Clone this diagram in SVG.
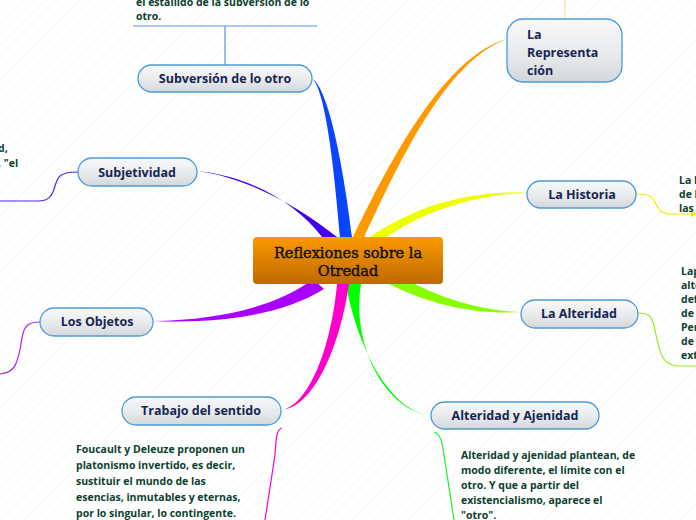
<svg xmlns="http://www.w3.org/2000/svg" width="696" height="520" viewBox="0 0 696 520">
<defs>
<pattern id="bg" width="8" height="8" patternUnits="userSpaceOnUse" patternTransform="rotate(45)">
<rect width="8" height="8" fill="#ffffff"/>
<line x1="0" y1="0" x2="0" y2="8" stroke="#f1f2f3" stroke-width="1.2"/>
</pattern>
<linearGradient id="nodeGrad" x1="0" y1="0" x2="0" y2="1">
<stop offset="0" stop-color="#f8f9fa"/>
<stop offset="0.6" stop-color="#e6e9eb"/>
<stop offset="1" stop-color="#d3d7da"/>
</linearGradient>
<linearGradient id="centerGrad" x1="0" y1="0" x2="0" y2="1">
<stop offset="0" stop-color="#fa9a00"/>
<stop offset="1" stop-color="#c06800"/>
</linearGradient>
<marker id="arrY" markerWidth="6" markerHeight="6" refX="5" refY="3" orient="auto" markerUnits="userSpaceOnUse">
<path d="M0,0 L6,3 L0,6 Z" fill="#eeee00"/>
</marker>
</defs>
<style>
.node rect{fill:url(#nodeGrad);stroke:#4d9bd6;stroke-width:1.3}
.node text{font-family:"Open Sans","Noto Sans",sans-serif;font-weight:bold;font-size:12.5px;fill:#172552;text-anchor:middle}
.desc{font-family:"Open Sans","Noto Sans",sans-serif;font-weight:bold;font-size:10.5px;fill:#0c3f2f}
.thin{fill:none;stroke-width:1.2}
.ctext{font-family:"DejaVu Serif","Liberation Serif",serif;font-size:14.5px;fill:#111;stroke:#111;stroke-width:0.45;text-anchor:middle}
</style>
<rect width="696" height="520" fill="url(#bg)"/>

<g id="connectors">
<path d="M340,237 C335,180 327,96 313,79 C331,94 345,180 352,237 Z" fill="#0a44ff"/>
<path d="M353,237 C382,178 440,57 507,39 C441,62 391,182 364,237 Z" fill="#ff9900"/>
<path d="M322,237 C296,203 250,176 197,171 C250,178 300,208 337,237 Z" fill="#4400ee"/>
<path d="M366,240 C418,202 480,190 527,193 C480,194 422,209 374,246 Z" fill="#eeff00"/>
<path d="M386,268 C432,297 480,311 521,312 C480,315 428,306 382,280 Z" fill="#88ff00"/>
<path d="M346,284 C356,342 388,412 431,415 C386,412 351,345 361,284 Z" fill="#00ff00"/>
<path d="M337,284 C331,350 308,405 282,410 C312,407 339,352 349,284 Z" fill="#ff00cc"/>
<path d="M313,279 C278,306 220,320 153,321 C220,324 282,315 324,289 Z" fill="#aa00ff"/>
<path class="thin" d="M133,26 L317,26 M225,26 L225,65" stroke="#5c8fee"/>
<path class="thin" d="M565,0 L565,19" stroke="#ffd9ab" stroke-width="2"/>
<path class="thin" d="M78,172 C60,172 58,176 55,186 C52,197 48,201 38,201 L0,201" stroke="#5522ee"/>
<path class="thin" d="M636,194 C652,194 652,197 656,204 C660,212 663,214 672,214 L696,214" stroke="#eeee00" marker-end="url(#arrY)"/>
<path class="thin" d="M638,313 C650,313 652,316 655,330 C660,355 662,366 680,366 L696,366" stroke="#99ee22"/>
<path class="thin" d="M40,322 C28,322 24,326 22,338 C18,364 15,373 0,374" stroke="#aa22ee"/>
<path class="thin" d="M282,428 C276,430 276,440 275,455 L265,520" stroke="#ff00cc"/>
<path class="thin" d="M434,432 C440,434 442,440 444,455 L454,520" stroke="#22ee22"/>
</g>

<g id="center">
<rect x="253" y="237" width="190" height="47" rx="4" fill="url(#centerGrad)"/>
<text class="ctext" x="348" y="258">Reflexiones sobre la</text>
<text class="ctext" x="348" y="276">Otredad</text>
</g>

<g id="subversion" class="node">
<rect x="138" y="65" width="174" height="27" rx="13.5"/>
<text x="225" y="83">Subversión de lo otro</text>
</g>
<g id="subversion-text">
<text class="desc" x="136" y="6">el estallido de la subversión de lo</text>
<text class="desc" x="136" y="20">otro.</text>
</g>

<g id="subjetividad" class="node">
<rect x="78" y="158" width="119" height="28" rx="14"/>
<text x="137" y="177">Subjetividad</text>
</g>
<g id="subjetividad-text">
<text class="desc" x="-2" y="152">d,</text>
<text class="desc" x="-2" y="167">, "el</text>
</g>

<g id="representacion" class="node">
<rect x="507" y="19" width="115" height="63" rx="16"/>
<text x="527" y="39" style="text-anchor:start">La</text>
<text x="527" y="57" style="text-anchor:start">Representa</text>
<text x="527" y="75" style="text-anchor:start">ción</text>
</g>

<g id="historia" class="node">
<rect x="527" y="181" width="109" height="27" rx="13.5"/>
<text x="582" y="199">La Historia</text>
</g>
<g id="historia-text">
<text class="desc" x="679" y="184">La I</text>
<text class="desc" x="679" y="198">de l</text>
<text class="desc" x="679" y="212">las</text>
</g>

<g id="alteridad" class="node">
<rect x="521" y="300" width="117" height="28" rx="14"/>
<text x="579" y="318">La Alteridad</text>
</g>
<g id="alteridad-text">
<text class="desc" x="681" y="275">Lap</text>
<text class="desc" x="681" y="289">alte</text>
<text class="desc" x="681" y="303">def</text>
<text class="desc" x="681" y="317">de</text>
<text class="desc" x="681" y="331">Per</text>
<text class="desc" x="681" y="345">de</text>
<text class="desc" x="681" y="359">ext</text>
</g>

<g id="objetos" class="node">
<rect x="40" y="308" width="113" height="28" rx="14"/>
<text x="97" y="326">Los Objetos</text>
</g>

<g id="trabajo" class="node">
<rect x="122" y="397" width="159" height="28" rx="14"/>
<text x="201" y="415">Trabajo del sentido</text>
</g>
<g id="trabajo-text">
<text class="desc" x="76" y="453">Foucault y Deleuze proponen un</text>
<text class="desc" x="76" y="469">platonismo invertido, es decir,</text>
<text class="desc" x="76" y="485">sustituir el mundo de las</text>
<text class="desc" x="76" y="501">esencias, inmutables y eternas,</text>
<text class="desc" x="76" y="517">por lo singular, lo contingente.</text>
<text class="desc" x="76" y="533">Instaurar una mirada más</text>
</g>

<g id="ajenidad" class="node">
<rect x="431" y="402" width="168" height="27" rx="13.5"/>
<text x="515" y="420">Alteridad y Ajenidad</text>
</g>
<g id="ajenidad-text">
<text class="desc" x="461" y="459">Alteridad y ajenidad plantean, de</text>
<text class="desc" x="461" y="474">modo diferente, el límite con el</text>
<text class="desc" x="461" y="489">otro. Y que a partir del</text>
<text class="desc" x="461" y="504">existencialismo, aparece el</text>
<text class="desc" x="461" y="519">"otro".</text>
</g>
</svg>
